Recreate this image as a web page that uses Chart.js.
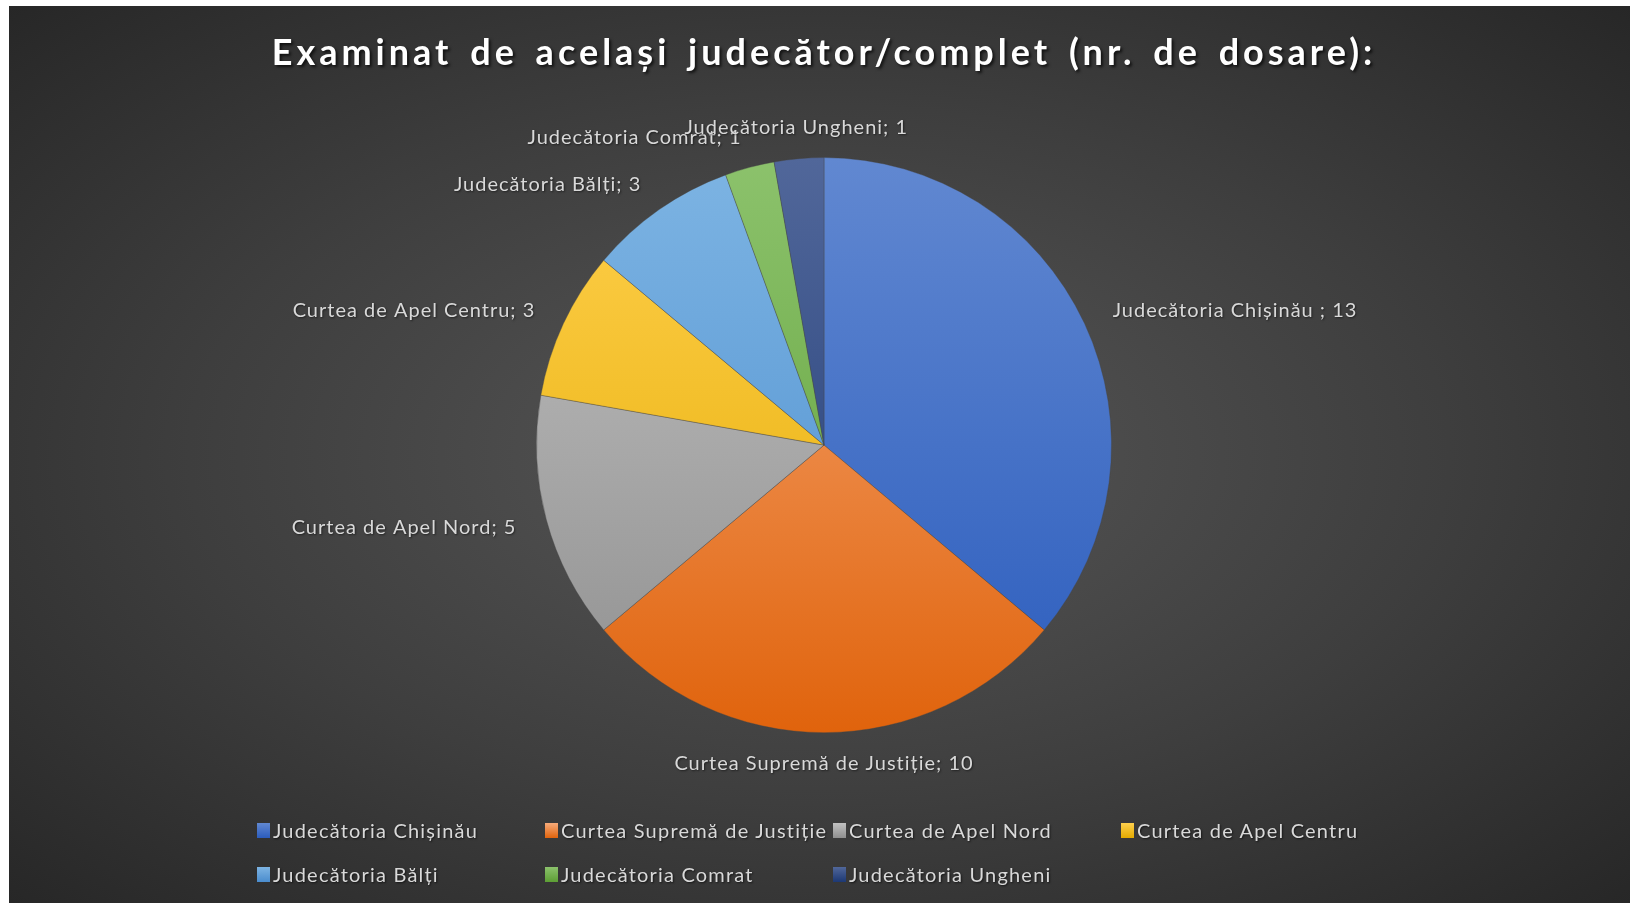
<!DOCTYPE html>
<html lang="ro">
<head>
<meta charset="utf-8">
<script src="https://cdn.jsdelivr.net/npm/chart.js@4.4.0/dist/chart.umd.min.js"></script>
<style>
  html, body { margin: 0; padding: 0; background: #fff; }
  #wrap {
    position: absolute; left: 9px; top: 6px; width: 1621px; height: 897px;
    background: radial-gradient(ellipse at 50% 50%, #575757 0%, #3e3e3e 55%, #272727 100%);
    overflow: hidden;
  }
  #legend {
    position: absolute; left: 248px; top: 802px;
    display: grid; grid-template-columns: repeat(4, 288px); grid-auto-rows: 44px;
    align-items: center;
    font-family: Lato, "Open Sans", sans-serif; font-size: 20px; color: #d9d9d9;
    letter-spacing: 1.2px;
    text-shadow: 1px 1px 2px rgba(0,0,0,0.6);
  }
  #legend .item { display: flex; align-items: center; white-space: nowrap; }
  #legend .box { width: 13px; height: 15px; margin-right: 3px; flex: none; }
</style>
</head>
<body>
<div id="wrap">
  <canvas id="pieChart"></canvas>
  <div id="legend"></div>
</div>
<script>
// Date
const titlu = 'Examinat de același judecător/complet (nr. de dosare):';
const instante = [
    'Judecătoria Chișinău',
    'Curtea Supremă de Justiție',
    'Curtea de Apel Nord',
    'Curtea de Apel Centru',
    'Judecătoria Bălți',
    'Judecătoria Comrat',
    'Judecătoria Ungheni'
];
const dosare = [13, 10, 5, 3, 3, 1, 1];
// etichete așa cum apar pe grafic
const etichete = [
    'Judecătoria Chișinău ; 13',
    'Curtea Supremă de Justiție; 10',
    'Curtea de Apel Nord; 5',
    'Curtea de Apel Centru; 3',
    'Judecătoria Bălți; 3',
    'Judecătoria Comrat; 1',
    'Judecătoria Ungheni; 1'
];

// culori: [sus, jos]
const culori = [
    ['#6188d1', '#2b5cbd'],
    ['#f7ab7a', '#e0630c'],
    ['#c2c2c2', '#8f8f8f'],
    ['#ffd04d', '#e3aa00'],
    ['#7db4e3', '#4a8ccd'],
    ['#8cc26c', '#5c9e34'],
    ['#51679a', '#1c3874']
];

function gradient(ctx, area, pair) {
    const g = ctx.createLinearGradient(0, area.top, 0, area.bottom);
    g.addColorStop(0, pair[0]);
    g.addColorStop(1, pair[1]);
    return g;
}

// umbra si spatiere pentru titlu
const umbraTitlu = {
    id: 'umbraTitlu',
    beforeDraw(chart) {
        const ctx = chart.ctx;
        ctx.shadowColor = 'rgba(0,0,0,0.7)';
        ctx.shadowOffsetX = 2;
        ctx.shadowOffsetY = 2;
        ctx.shadowBlur = 3;
        ctx.letterSpacing = '4px';
        ctx.wordSpacing = '5px';
    },
    beforeDatasetsDraw(chart) {
        const ctx = chart.ctx;
        ctx.shadowColor = 'rgba(0,0,0,0)';
        ctx.shadowBlur = 0;
        ctx.shadowOffsetX = 0;
        ctx.shadowOffsetY = 0;
        ctx.letterSpacing = '0px';
        ctx.wordSpacing = '0px';
    }
};

// etichete în afara feliilor
const eticheteExterioare = {
    id: 'eticheteExterioare',
    afterDatasetsDraw(chart) {
        const ctx = chart.ctx;
        const meta = chart.getDatasetMeta(0);
        ctx.save();
        ctx.font = '20px Lato, "Open Sans", sans-serif';
        ctx.letterSpacing = '1px';
        ctx.fillStyle = '#d9d9d9';
        ctx.textBaseline = 'middle';
        ctx.shadowColor = 'rgba(0,0,0,0.5)';
        ctx.shadowOffsetX = 1;
        ctx.shadowOffsetY = 1;
        ctx.shadowBlur = 2;
        meta.data.forEach((arc, i) => {
            const p = arc.getProps(['x', 'y', 'startAngle', 'endAngle', 'outerRadius'], true);
            const mid = (p.startAngle + p.endAngle) / 2;
            const r = p.outerRadius + 31;
            const dx = Math.cos(mid), dy = Math.sin(mid);
            ctx.textAlign = dx > 0.25 ? 'left' : (dx < -0.25 ? 'right' : 'center');
            ctx.fillText(etichete[i], p.x + dx * r, p.y + dy * r);
        });
        ctx.restore();
    }
};

const ctx = document.getElementById('pieChart').getContext('2d');
const pieChart = new Chart(ctx, {
    type: 'pie',
    data: {
        labels: instante,
        datasets: [{
            data: dosare,
            backgroundColor: (c) => {
                const area = c.chart.chartArea;
                if (!area) return culori[c.dataIndex][0];
                return gradient(c.chart.ctx, area, culori[c.dataIndex]);
            },
            borderColor: 'rgba(70,70,70,0.5)',
            borderWidth: 0.75
        }]
    },
    options: {
        responsive: true,
        maintainAspectRatio: false,
        animation: false,
        layout: { padding: { left: 9, right: 0, top: 0, bottom: 170 } },
        plugins: {
            legend: { display: false },
            tooltip: { enabled: false },
            title: {
                display: true,
                text: titlu,
                color: '#ffffff',
                font: { family: 'Lato, "Open Sans", sans-serif', size: 36, weight: 'bold', lineHeight: 1.2 },
                padding: { top: 26, bottom: 82 }
            }
        }
    },
    plugins: [umbraTitlu, eticheteExterioare]
});

// legenda (HTML, pe coloane fixe)
const legend = document.getElementById('legend');
instante.forEach((nume, i) => {
    const item = document.createElement('div');
    item.className = 'item';
    const box = document.createElement('span');
    box.className = 'box';
    box.style.background = 'linear-gradient(' + culori[i][0] + ',' + culori[i][1] + ')';
    const txt = document.createElement('span');
    txt.textContent = nume;
    item.appendChild(box);
    item.appendChild(txt);
    legend.appendChild(item);
});
</script>
</body>
</html>
